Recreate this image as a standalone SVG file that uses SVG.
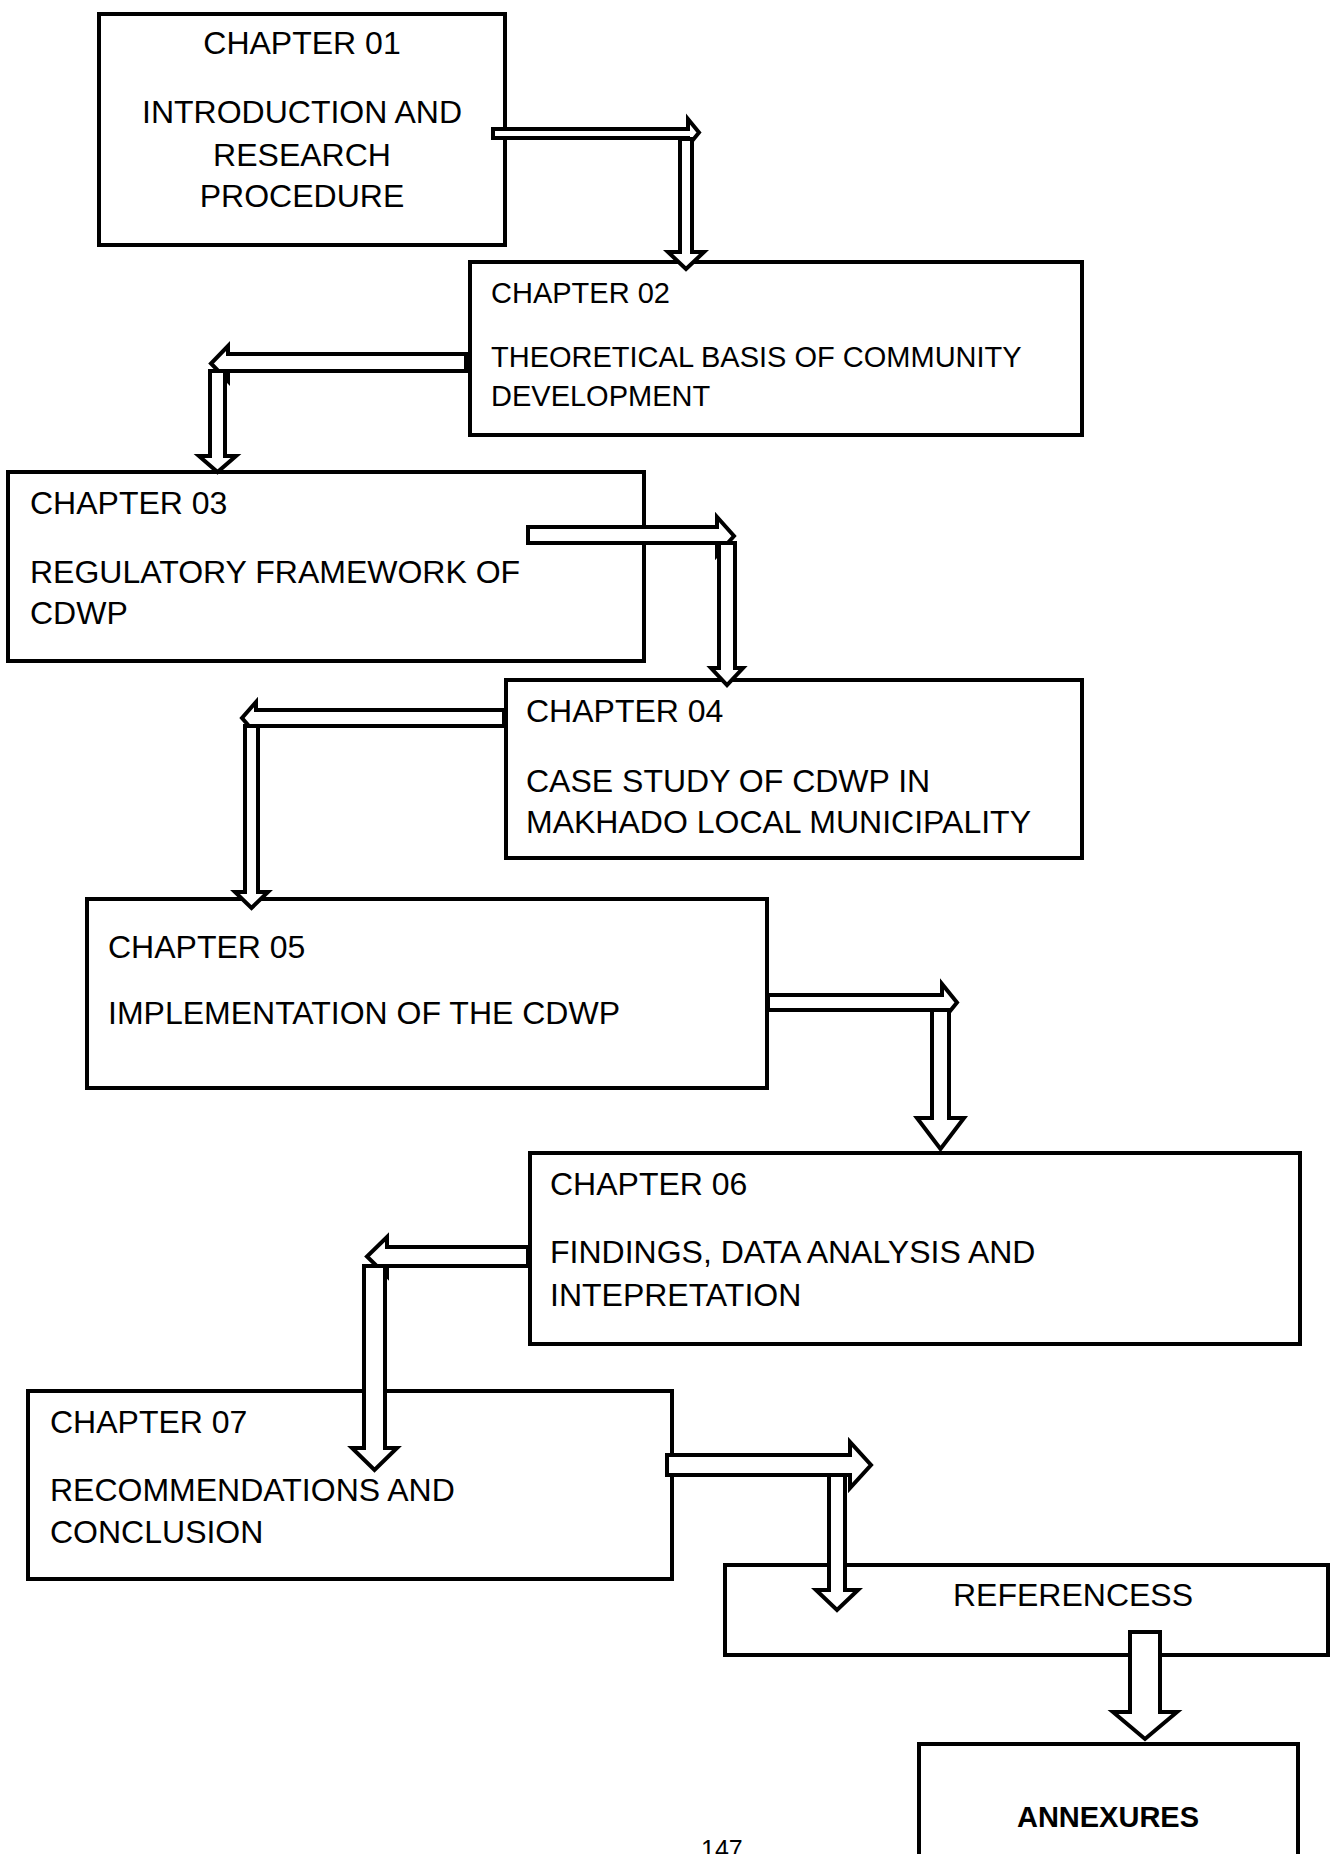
<svg xmlns="http://www.w3.org/2000/svg" width="1333" height="1854" viewBox="0 0 1333 1854">
  <style>
    .box { fill: #ffffff; stroke: #000000; stroke-width: 4; }
    .arrow { fill: #ffffff; stroke: #000000; stroke-width: 4; stroke-linejoin: miter; stroke-miterlimit: 6; }
    text { font-family: "Liberation Sans", Arial, sans-serif; fill: #000000; }
    .t { font-size: 32px; }
    .s { font-size: 29px; }
    .c { text-anchor: middle; }
    .b { font-weight: bold; font-size: 29px; }
    .pg { font-size: 25px; }
  </style>
  <rect width="1333" height="1854" fill="#ffffff"/>

  <!-- chapter boxes -->
  <g id="chapter01">
    <rect class="box" x="99" y="14" width="406" height="231"/>
    <text class="t c" x="302" y="54">CHAPTER 01</text>
    <text class="t c" x="302" y="123">INTRODUCTION AND</text>
    <text class="t c" x="302" y="166">RESEARCH</text>
    <text class="t c" x="302" y="207">PROCEDURE</text>
  </g>

  <g id="chapter02">
    <rect class="box" x="470" y="262" width="612" height="173"/>
    <text class="s" x="491" y="303">CHAPTER 02</text>
    <text class="s" x="491" y="367">THEORETICAL BASIS OF COMMUNITY</text>
    <text class="s" x="491" y="406">DEVELOPMENT</text>
  </g>

  <g id="chapter03">
    <rect class="box" x="8" y="472" width="636" height="189"/>
    <text class="t" x="30" y="514">CHAPTER 03</text>
    <text class="t" x="30" y="583">REGULATORY FRAMEWORK OF</text>
    <text class="t" x="30" y="624">CDWP</text>
  </g>

  <g id="chapter04">
    <rect class="box" x="506" y="680" width="576" height="178"/>
    <text class="t" x="526" y="722">CHAPTER 04</text>
    <text class="t" x="526" y="792">CASE STUDY OF CDWP IN</text>
    <text class="t" x="526" y="833">MAKHADO LOCAL MUNICIPALITY</text>
  </g>

  <g id="chapter05">
    <rect class="box" x="87" y="899" width="680" height="189"/>
    <text class="t" x="108" y="958">CHAPTER 05</text>
    <text class="t" x="108" y="1024">IMPLEMENTATION OF THE CDWP</text>
  </g>

  <g id="chapter06">
    <rect class="box" x="530" y="1153" width="770" height="191"/>
    <text class="t" x="550" y="1195">CHAPTER 06</text>
    <text class="t" x="550" y="1263">FINDINGS, DATA ANALYSIS AND</text>
    <text class="t" x="550" y="1306">INTEPRETATION</text>
  </g>

  <g id="chapter07">
    <rect class="box" x="28" y="1391" width="644" height="188"/>
    <text class="t" x="50" y="1433">CHAPTER 07</text>
    <text class="t" x="50" y="1501">RECOMMENDATIONS AND</text>
    <text class="t" x="50" y="1543">CONCLUSION</text>
  </g>

  <g id="references">
    <rect class="box" x="725" y="1565" width="603" height="90"/>
    <text class="t" x="953" y="1606">REFERENCESS</text>
  </g>

  <g id="annexures">
    <rect class="box" x="919" y="1744" width="379" height="200"/>
    <text class="b c" x="1108" y="1827">ANNEXURES</text>
  </g>

  <!-- block arrows linking the chapters -->
  <g id="connectors">
    <polygon class="arrow" points="493,129 688,129 688,119 699,132.5 688,146 688,138 493,138"/>
    <polygon class="arrow" points="680,139 692,139 692,252 704,252 686,269 668,252 680,252"/>

    <polygon class="arrow" points="466,354 228,354 228,346 211,363.5 228,381 228,371 466,371"/>
    <polygon class="arrow" points="210,371 225,371 225,456 236,456 217.5,472 199,456 210,456"/>

    <polygon class="arrow" points="528,527 717,527 717,517 734,536 717,555 717,543 528,543"/>
    <polygon class="arrow" points="719,543 735,543 735,668 743,668 727,685 711,668 719,668"/>

    <polygon class="arrow" points="504,710 256,710 256,702 242,718 256,734 256,726 504,726"/>
    <polygon class="arrow" points="245,726 258,726 258,892 268,892 251.5,908 235,892 245,892"/>

    <polygon class="arrow" points="768,995 942,995 942,984 957,1002.5 942,1021 942,1010 768,1010"/>
    <polygon class="arrow" points="932,1010 949,1010 949,1118 964,1118 940.5,1149 917,1118 932,1118"/>

    <polygon class="arrow" points="528,1247 387,1247 387,1237 367,1256.5 387,1276 387,1266 528,1266"/>
    <polygon class="arrow" points="364,1266 385,1266 385,1448 397,1448 374.5,1470 352,1448 364,1448"/>

    <polygon class="arrow" points="667,1455 850,1455 850,1442 871,1465 850,1488 850,1475 667,1475"/>
    <polygon class="arrow" points="829,1475 845,1475 845,1590 858,1590 837,1610 816,1590 829,1590"/>

    <polygon class="arrow" points="1130,1632 1160,1632 1160,1712 1177,1712 1145,1739 1113,1712 1130,1712"/>
  </g>

  <text class="pg" x="701" y="1858">147</text>
</svg>
